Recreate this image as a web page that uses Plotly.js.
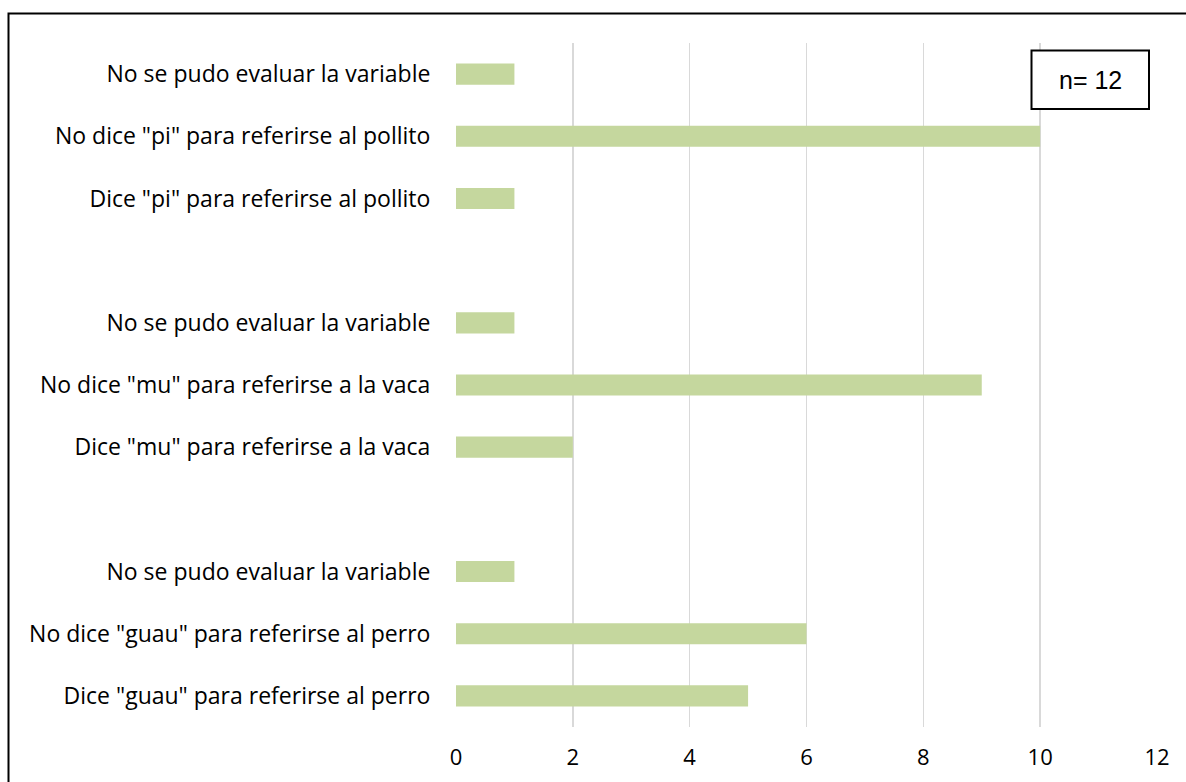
<!DOCTYPE html>
<html>
<head>
<meta charset="utf-8">
<script src="https://cdn.plot.ly/plotly-3.0.1.min.js"></script>
<style>html,body{margin:0;padding:0;background:#fff;}#chart{width:1186px;height:782px;}</style>
</head>
<body>
<div id="chart"></div>
<script>
// Categories from bottom to top; '' entries are spacer rows between groups
var categoryLabels = [
  'Dice "guau" para referirse al perro',
  'No dice "guau" para referirse al perro',
  'No se pudo evaluar la variable',
  '',
  'Dice "mu" para referirse a la vaca',
  'No dice "mu" para referirse a la vaca',
  'No se pudo evaluar la variable',
  '',
  'Dice "pi" para referirse al pollito',
  'No dice "pi" para referirse al pollito',
  'No se pudo evaluar la variable'
];
var counts = [5, 6, 1, null, 2, 9, 1, null, 1, 10, 1];
var xTickValues = [0, 2, 4, 6, 8, 10, 12];
var sampleNote = 'n= 12';

var categoryKeys = categoryLabels.map(function (_, i) { return 'row' + i; });

var trace = {
  type: 'bar',
  orientation: 'h',
  x: counts,
  y: categoryKeys,
  marker: {color: '#C5D79E', line: {width: 0}},
  hoverinfo: 'x'
};

var W = 1186, H = 782;
var L = 456, R = 29, T = 43, B = 55;
var pw = W - L - R, ph = H - T - B;
function px2x(p) { return (p - L) / pw; }
function px2y(p) { return (H - B - p) / ph; }

var labelFont = '"Open Sans", Lato, sans-serif';

var layout = {
  width: W, height: H,
  margin: {l: L, r: R, t: T, b: B, pad: 0},
  paper_bgcolor: '#fff', plot_bgcolor: '#fff',
  showlegend: false,
  bargap: 0.66,
  font: {family: labelFont, color: '#000'},
  xaxis: {
    range: [0, 12],
    tickvals: xTickValues,
    ticktext: xTickValues.map(String),
    showgrid: true, gridcolor: '#D9D9D9', gridwidth: 1.5,
    zeroline: false, showline: false,
    ticks: 'outside', ticklen: 11, tickcolor: 'rgba(0,0,0,0)',
    tickfont: {size: 22, family: labelFont, color: '#000'},
    fixedrange: true
  },
  yaxis: {
    type: 'category',
    categoryorder: 'array', categoryarray: categoryKeys,
    tickmode: 'array', tickvals: categoryKeys, ticktext: categoryLabels,
    range: [-0.5, categoryKeys.length - 0.5],
    showgrid: false, zeroline: false, showline: false,
    ticks: 'outside', ticklen: 20, tickcolor: 'rgba(0,0,0,0)',
    tickfont: {size: 23, family: labelFont, color: '#000'},
    fixedrange: true
  },
  shapes: [
    {type: 'rect', xref: 'paper', yref: 'paper',
     x0: px2x(8.5), x1: px2x(1200), y0: px2y(800), y1: px2y(13.5),
     line: {color: '#000', width: 2}, fillcolor: 'rgba(0,0,0,0)', layer: 'above'},
    {type: 'rect', xref: 'paper', yref: 'paper',
     x0: px2x(1031.5), x1: px2x(1149), y0: px2y(109), y1: px2y(50.5),
     line: {color: '#000', width: 2}, fillcolor: '#fff', layer: 'above'}
  ],
  annotations: [
    {xref: 'paper', yref: 'paper', x: px2x(1090), y: px2y(80),
     xanchor: 'center', yanchor: 'middle', showarrow: false,
     text: sampleNote,
     font: {family: '"Liberation Sans", Arial, sans-serif', size: 25, color: '#000'}}
  ]
};

Plotly.newPlot('chart', [trace], layout, {displayModeBar: false, staticPlot: true});
</script>
</body>
</html>
